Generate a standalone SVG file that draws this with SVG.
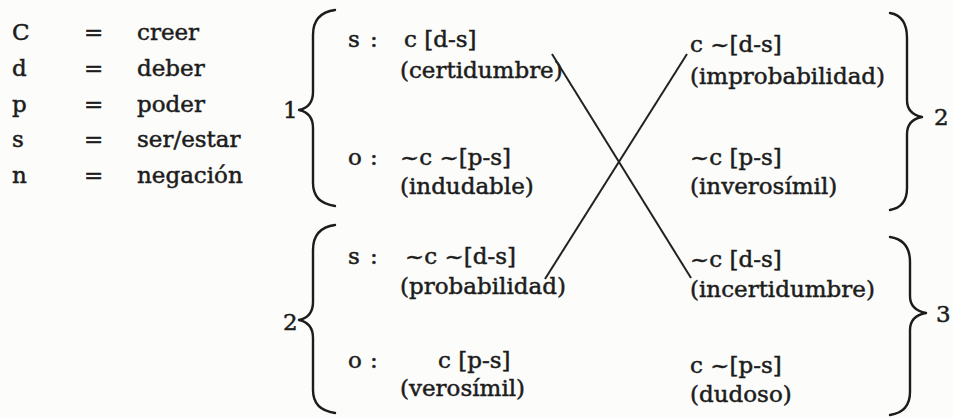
<svg xmlns="http://www.w3.org/2000/svg" width="953" height="418" viewBox="0 0 953 418">
<style>
.t{font-family:"DejaVu Serif","Liberation Serif",serif;font-size:23px;fill:#1c1c1c;stroke:#1c1c1c;stroke-width:0.5}
.br{fill:none;stroke:#1c1c1c;stroke-width:2.4;stroke-linecap:round;stroke-linejoin:round}
.cn{stroke:#222;stroke-width:2;fill:none}
</style>
<rect width="953" height="418" fill="#fcfcfb"/>
<g id="legend">
<text class="t" x="12" y="40">C</text><text class="t" x="84" y="40">=</text><text class="t" x="137" y="40">creer</text>
<text class="t" x="12" y="76">d</text><text class="t" x="84" y="76">=</text><text class="t" x="137" y="76">deber</text>
<text class="t" x="12" y="112">p</text><text class="t" x="84" y="112">=</text><text class="t" x="137" y="112">poder</text>
<text class="t" x="12" y="147">s</text><text class="t" x="84" y="147">=</text><text class="t" x="137" y="147">ser/estar</text>
<text class="t" x="12" y="183">n</text><text class="t" x="84" y="183">=</text><text class="t" x="137" y="183">negación</text>
</g>
<g id="group1">
<text class="t" x="283" y="118">1</text>
<path class="br" d="M335,10 Q313,13 313,35 L313,92 Q313,107 299,110 Q313,113 313,128 L313,183 Q313,203 335,206"/>
<text class="t" x="348" y="47">s</text><text class="t" x="370" y="47">:</text><text class="t" x="404" y="47">c [d-s]</text>
<text class="t" x="400" y="78">(certidumbre)</text>
<text class="t" x="348" y="165">o</text><text class="t" x="370" y="165">:</text><text class="t" x="400" y="165">~c ~[p-s]</text>
<text class="t" x="400" y="194">(indudable)</text>
</g>
<g id="group2">
<text class="t" x="283" y="330">2</text>
<path class="br" d="M335,225 Q313,228 313,250 L313,302 Q313,317 299,320 Q313,323 313,338 L313,390 Q313,410 335,413"/>
<text class="t" x="348" y="264">s</text><text class="t" x="370" y="264">:</text><text class="t" x="405" y="264">~c ~[d-s]</text>
<text class="t" x="400" y="294">(probabilidad)</text>
<text class="t" x="348" y="368">o</text><text class="t" x="370" y="368">:</text><text class="t" x="438" y="368">c [p-s]</text>
<text class="t" x="400" y="396">(verosímil)</text>
</g>
<g id="result2">
<text class="t" x="690" y="52">c ~[d-s]</text>
<text class="t" x="690" y="84">(improbabilidad)</text>
<text class="t" x="690" y="165">~c [p-s]</text>
<text class="t" x="690" y="194">(inverosímil)</text>
<path class="br" d="M890,13 Q907,16 907,38 L907,100 Q907,114 922,117 Q907,120 907,134 L907,188 Q907,207 890,210"/>
<text class="t" x="934" y="125">2</text>
</g>
<g id="result3">
<text class="t" x="690" y="267">~c [d-s]</text>
<text class="t" x="690" y="297">(incertidumbre)</text>
<text class="t" x="690" y="373">c ~[p-s]</text>
<text class="t" x="690" y="402">(dudoso)</text>
<path class="br" d="M890,237 Q910,240 910,262 L910,296 Q910,310 926,313 Q910,316 910,330 L910,392 Q910,412 890,415"/>
<text class="t" x="936" y="322">3</text>
</g>
<g id="connectors">
<line class="cn" x1="552" y1="54" x2="691" y2="278"/>
<line class="cn" x1="545" y1="279" x2="687" y2="54"/>
</g>
</svg>
